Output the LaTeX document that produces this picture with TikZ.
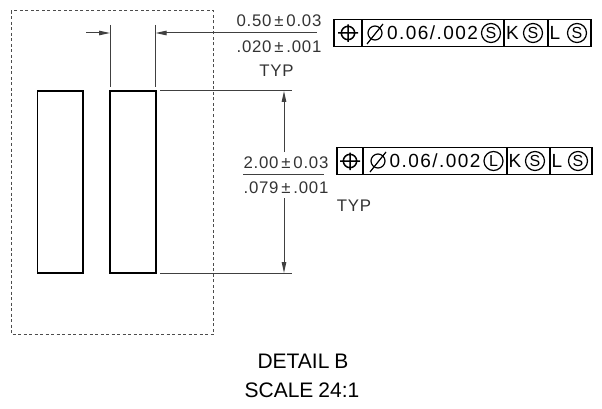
\documentclass[tikz,border=0pt]{standalone}
\usepackage{fontspec}
\setmainfont{Liberation Sans}
\usetikzlibrary{arrows.meta}
\tikzset{
  x=1pt,y=-1pt,
  part/.style={draw=black,line width=1.5pt},
  thinline/.style={draw=black!75,line width=1pt},
  dim/.style={thinline,-{Triangle[length=11pt,width=4.5pt]}},
  dimtext/.style={inner sep=0pt,text=black!80,font=\fontsize{16.8}{16.8}\selectfont\addfontfeature{LetterSpace=4.5}},
  fcftext/.style={inner sep=0pt,text=black,font=\fontsize{19}{19}\selectfont\addfontfeature{LetterSpace=7.5}},
  captext/.style={inner sep=0pt,text=black,font=\fontsize{21}{21}\selectfont},
  fcf/.style={draw=black,line width=1.5pt},
  circ/.style={circle,draw=black,line width=1.2pt,minimum size=19pt,inner sep=0pt,font=\fontsize{16}{16}\selectfont},
  dashbox/.style={draw=black!70,line width=1pt,dash pattern=on 3pt off 2.5pt}
}
\begin{document}
\begin{tikzpicture}
\useasboundingbox (0,0) rectangle (602,409);
\draw[dashbox] (11,11) rectangle (213.5,334);
\node[part,minimum width=45.5pt,minimum height=182pt,inner sep=0pt,anchor=north west] (p1) at (36.75,90.25) {};
\node[part,minimum width=46pt,minimum height=182pt,inner sep=0pt,anchor=north west] (p2) at (109.25,90.25) {};
% extension lines
\coordinate (e1) at (110,25); \coordinate (e1b) at (110,87);
\coordinate (e2) at (155.5,25); \coordinate (e2b) at (155.5,87);
\draw[thinline] (e1)--(e1b);
\draw[thinline] (e2)--(e2b);
\coordinate (a1s) at (86,33); \coordinate (a1e) at (110,33);
\coordinate (a2s) at (236,33); \coordinate (a2e) at (155.5,33);
\draw[dim] (a1s)--(a1e);
\draw[dim] (a2s)--(a2e);
\coordinate (h1s) at (160,91); \coordinate (h1e) at (292,91);
\coordinate (h2s) at (160,273); \coordinate (h2e) at (292,273);
\draw[thinline] (h1s)--(h1e);
\draw[thinline] (h2s)--(h2e);
\coordinate (v1s) at (284,152); \coordinate (v1e) at (284,91);
\coordinate (v2s) at (284,198); \coordinate (v2e) at (284,273);
\draw[dim] (v1s)--(v1e);
\draw[dim] (v2s)--(v2e);
% tolerances
\node[dimtext] (t1a) at (279,21) {0.50\,±\,0.03};
\draw[thinline] (236,33)--(317,33);
\node[dimtext] (t1b) at (279,47) {.020\,±\,.001};
\node[dimtext] (t1c) at (276.5,71) {TYP};
\node[dimtext] (t2a) at (286,163) {2.00\,±\,0.03};
\draw[thinline] (243,174.5)--(324,174.5);
\node[dimtext] (t2b) at (286,187.5) {.079\,±\,.001};
\node[dimtext] (t2c) at (354,206) {TYP};
% FCF 1
\draw[fcf] (334,19.5) rectangle (591,46.5);
\draw[fcf] (362,19.5)--(362,46.5) (504,19.5)--(504,46.5) (548,19.5)--(548,46.5);
\draw[line width=1.5pt] (348,33) circle (6.7pt) (338,33)--(358,33) (348,24.5)--(348,42);
\draw[line width=1.2pt] (367,44)--(383,24);
\draw[line width=1.2pt] (375,33) circle (7pt);
\node[fcftext,anchor=west] (v1) at (387,33) {0.06/.002};
\node[circ] (s1) at (491,33) {S};
\node[fcftext] (k1) at (512.5,33) {K};
\node[circ] (s2) at (533,33) {S};
\node[fcftext] (l1) at (555,33) {L};
\node[circ] (s3) at (577,33) {S};
% FCF 2
\draw[fcf] (337,147.5) rectangle (592,174.5);
\draw[fcf] (363,147.5)--(363,174.5) (507,147.5)--(507,174.5) (550,147.5)--(550,174.5);
\draw[line width=1.5pt] (350,161) circle (6.7pt) (340,161)--(360,161) (350,152.5)--(350,170);
\draw[line width=1.2pt] (370,172)--(386,152);
\draw[line width=1.2pt] (378,161) circle (7pt);
\node[fcftext,anchor=west] (v2) at (389.5,161) {0.06/.002};
\node[circ] (s4) at (493.5,161) {L};
\node[fcftext] (k2) at (515,161) {K};
\node[circ] (s5) at (535,161) {S};
\node[fcftext] (l2) at (557,161) {L};
\node[circ] (s6) at (578,161) {S};
% captions
\node[captext] (c1) at (303,361) {DETAIL\hspace{5pt}B};
\node[captext] (c2) at (302,390) {SCALE\hspace{5pt}24:1};
\end{tikzpicture}
\end{document}
